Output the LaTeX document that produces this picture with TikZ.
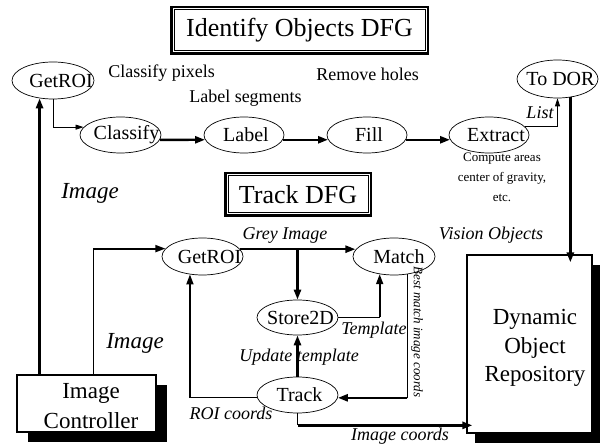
\documentclass[tikz,border=0pt]{standalone}
\usepackage{fontspec}
\setmainfont{Liberation Serif}
\usetikzlibrary{arrows.meta,shapes.geometric,calc}
\begin{document}
\begin{tikzpicture}[x=1pt,y=-1pt,
  ell/.style={draw, ellipse, line width=0.7pt, inner sep=0pt},
  ntext/.style={font=\fontsize{20}{24}\selectfont, inner sep=0pt},
  lab/.style={font=\fontsize{18}{22}\selectfont\itshape, inner sep=0pt},
  biglab/.style={font=\fontsize{23}{27}\selectfont\itshape, inner sep=0pt},
  note/.style={font=\fontsize{18}{22}\selectfont, inner sep=0pt},
  small/.style={font=\fontsize{13}{20}\selectfont, inner sep=0pt, align=center},
  titlebox/.style={draw, line width=2.5pt, inner sep=0pt, font=\fontsize{26}{30}\selectfont},
  bigbox/.style={draw, line width=1.2pt, fill=white, inner sep=0pt},
  shadow/.style={fill=black, inner sep=0pt},
  thin/.style={line width=0.8pt},
  mid/.style={line width=1.8pt},
  thk/.style={line width=2.4pt},
  vthk/.style={line width=3.2pt},
  tipS/.style={-{Triangle[length=8pt,width=5pt]}},
  tipL/.style={-{Triangle[length=10pt,width=7pt]}},
]
\useasboundingbox (0,0) rectangle (608,446);

% titles
\node[titlebox, minimum width=256.5pt, minimum height=46.5pt] (t1) at (299.5,30.5) {Identify Objects DFG};
\draw[line width=1pt] ([shift={(4pt,-4pt)}]t1.north west) rectangle ([shift={(-4pt,4pt)}]t1.south east);
\node[titlebox, minimum width=145.5pt, minimum height=42.5pt] (t2) at (298,194.5) {Track DFG};
\draw[line width=1pt] ([shift={(4pt,-4pt)}]t2.north west) rectangle ([shift={(-4pt,4pt)}]t2.south east);

% boxes with shadows
\node[shadow, minimum width=139pt, minimum height=57pt] (icsh) at (97.5,413.5) {};
\node[bigbox, minimum width=139pt, minimum height=57pt] (ic) at (86.5,403.5) {};
\node[font=\fontsize{23}{30}\selectfont, align=center, inner sep=0pt] (ict) at (91,406.5) {Image\\Controller};
\node[shadow, minimum width=125pt, minimum height=178pt] (dorsh) at (537.5,354) {};
\node[bigbox, minimum width=125pt, minimum height=178pt] (dor) at (529.5,344) {};
\node[font=\fontsize{23}{28.5}\selectfont, align=center, inner sep=0pt] (dort) at (535,348) {Dynamic\\Object\\Repository};

% ellipses
\node[ell, minimum width=82pt, minimum height=37pt, label={[ntext,xshift=8pt]center:GetROI}] (gr1) at (53,80.5) {};
\node[ell, minimum width=81pt, minimum height=36pt, label={[ntext,xshift=6pt]center:Classify}] (cl) at (120.5,135) {};
\node[ell, minimum width=80pt, minimum height=36pt, label={[ntext,xshift=2pt]center:Label}] (lb) at (244,135) {};
\node[ell, minimum width=80pt, minimum height=36pt, label={[ntext,xshift=2pt]center:Fill}] (fi) at (367,135) {};
\node[ell, minimum width=80pt, minimum height=36pt, label={[ntext,xshift=7pt]center:Extract}] (ex) at (489,135) {};
\node[ell, minimum width=81pt, minimum height=38pt, label={[ntext,xshift=3pt]center:To DOR}] (todor) at (557.5,79) {};
\node[ell, minimum width=81pt, minimum height=37pt, label={[ntext,xshift=7pt]center:GetROI}] (gr2) at (202.5,256.5) {};
\node[ell, minimum width=82pt, minimum height=37pt, label={[ntext,xshift=5pt]center:Match}] (ma) at (394,256.5) {};
\node[ell, minimum width=81pt, minimum height=35pt, label={[ntext,xshift=3pt]center:Store2D}] (st) at (297.5,317.5) {};
\node[ell, minimum width=81pt, minimum height=36pt, label={[ntext,xshift=2pt]center:Track}] (tr) at (297.5,395) {};

% free labels
\node[note] (n1) at (161.5,73) {Classify pixels};
\node[note] (n2) at (367.5,74) {Remove holes};
\node[note] (n3) at (245.5,98) {Label segments};
\node[small] (n4) at (502,177) {Compute areas\\center of gravity,\\etc.};
\node[lab] (l1) at (540,113) {List};
\node[biglab] (l2) at (90,193) {Image};
\node[biglab] (l3) at (135,343) {Image};
\node[lab] (l4) at (285,235) {Grey Image};
\node[lab] (l5) at (491,235) {Vision Objects};
\node[lab] (l6) at (374,330) {Template};
\node[lab] (l7) at (299,357) {Update template};
\node[lab] (l8) at (231,413) {ROI coords};
\node[lab] (l9) at (400,436) {Image coords};
\node[font=\fontsize{13}{16}\selectfont\itshape, inner sep=0pt, rotate=-90] (l10) at (417,332) {Best match image coords};

% upper graph connectors
\draw[vthk,tipL] (gr1.233 |- ic.north) -- (gr1.233);
\draw[thin,tipS] (gr1.south) |- (cl.168);
\draw[thk,tipL] (cl.-7) -- (lb.187);
\draw[thk,tipL] (lb.-7) -- (fi.187);
\draw[thk,tipL] (fi.-7) -- (ex.187);
\draw[thin,tipS] (ex.13) -| (todor.south);
\draw[vthk,tipL,shorten >=-8pt] (todor.-55) -- (todor.-55 |- dor.north);

% lower graph connectors
\coordinate (icb) at ([xshift=77pt]ic.north west);
\draw[mid,tipL] (icb) |- (gr2.168);
\draw[thk,tipL] (gr2.11) -- (gr2.11 -| ma.170);
\coordinate (gj) at (st.north |- gr2.11);
\draw[thk,tipL] (gj) -- (st.north);
\coordinate (tj) at (st.east -| ma.231);
\draw[thin] (st.east) -- (tj);
\draw[mid,tipL] (tj) -- (ma.231);
\draw[thk,tipL] (tr.north) -- (st.south);
\coordinate (mj) at (ma.-53 |- tr.-4);
\draw[thin] (ma.-53) -- (mj);
\draw[thk,tipL] (mj) -- (tr.-4);
\coordinate (rj) at (tr.184 -| gr2.235);
\draw[thin] (tr.184) -- (rj);
\draw[mid,tipL] (rj) -- (gr2.235);
\coordinate (tb) at ([yshift=-12pt]tr.south);
\draw[thin] (tr.south) -- (tb);
\draw[thk,tipL,shorten >=-6pt] (tb) -- (tb -| dor.west);
\end{tikzpicture}
\end{document}
